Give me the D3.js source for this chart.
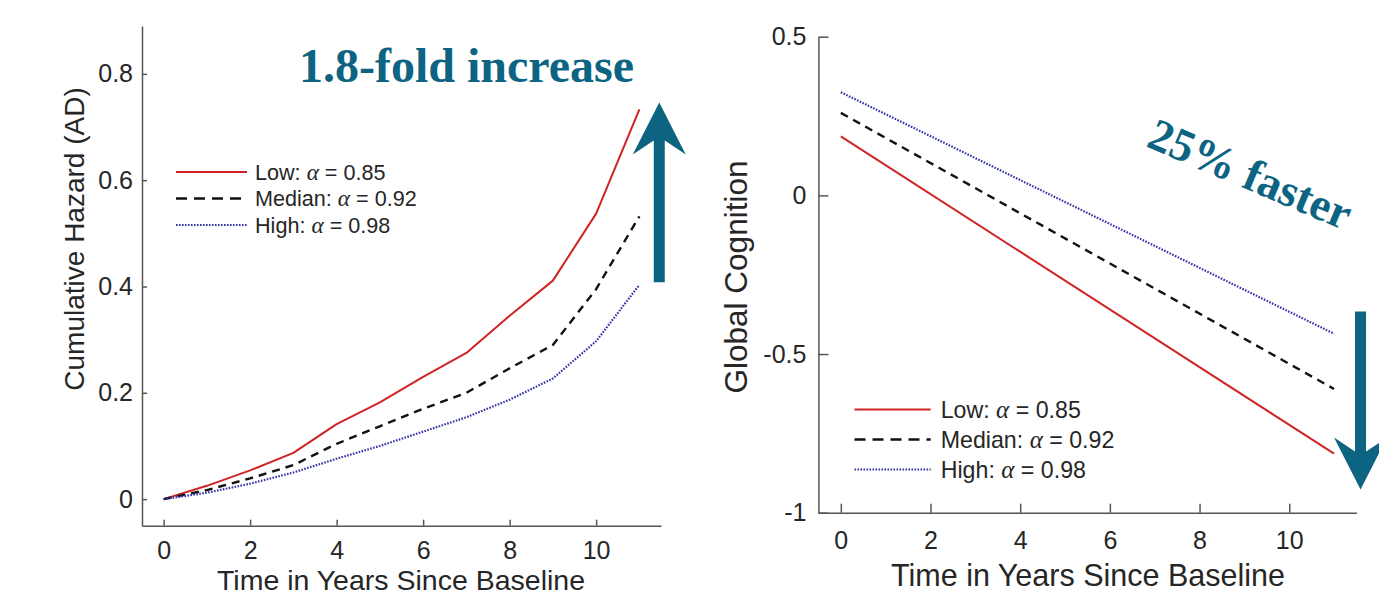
<!DOCTYPE html>
<html>
<head>
<meta charset="utf-8">
<script src="https://cdn.jsdelivr.net/npm/d3@7"></script>
<style>
  body { margin: 0; background: #fff; }
  svg { display: block; }
</style>
</head>
<body>
<div id="chart"></div>
<script>
// ---- data ----
const years = [0, 1, 2, 3, 4, 5, 6, 7, 8, 9, 10, 11]
const hazardLow = [0, 0.025, 0.054, 0.087, 0.141, 0.182, 0.23, 0.275, 0.345, 0.411, 0.537, 0.733]
const hazardMedian = [0, 0.017, 0.039, 0.064, 0.104, 0.137, 0.17, 0.2, 0.246, 0.29, 0.395, 0.532]
const hazardHigh = [0, 0.012, 0.029, 0.05, 0.076, 0.1, 0.127, 0.154, 0.187, 0.227, 0.297, 0.403]

const cogYears = [0, 11]
const cogLow = [0.186, -0.814]
const cogMedian = [0.26, -0.61]
const cogHigh = [0.325, -0.436]

const groupNames = ['Low', 'Median', 'High']
const alphaValues = ['0.85', '0.92', '0.98']

const xTicks = [0, 2, 4, 6, 8, 10]
const hazardTicks = [0, 0.2, 0.4, 0.6, 0.8]
const cogTicks = [-1, -0.5, 0, 0.5]

let width = 1379
let height = 595

let styles = [
  { color: '#d02424', dash: null, w: 2 },
  { color: '#111111', dash: '8,6', w: 2.4 },
  { color: '#3434a6', dash: '1.6,1.4', w: 2.2 }
]
let teal = '#0d6482'
let axisColor = '#555'
let labelColor = '#262626'
let sans = "Helvetica, 'Liberation Sans', Arial, sans-serif"
let serif = "'Liberation Serif', 'Times New Roman', serif"

let svg = d3
  .select('#chart')
  .append('svg')
  .attr('width', width)
  .attr('height', height)

// ---- left panel: cumulative hazard ----
let xL = d3.scaleLinear().domain([-0.5, 11.5]).range([142, 661])
let yL = d3.scaleLinear().domain([-0.05, 0.89]).range([525.7, 26])

// ---- right panel: global cognition ----
let xR = d3.scaleLinear().domain([-0.5, 11.5]).range([818.4, 1356.5])
let yR = d3.scaleLinear().domain([-1, 0.5]).range([512.7, 36.7])

function drawAxes(x, y, yTicks, opt) {
  let xAxis = svg
    .append('g')
    .attr('transform', `translate(0,${y.range()[0]})`)
    .call(
      d3.axisBottom(x)
        .tickValues(xTicks)
        .tickSizeInner(-opt.xTick)
        .tickSizeOuter(0)
        .tickPadding(opt.xPad)
        .tickFormat(d => String(d))
    )
  let yAxis = svg
    .append('g')
    .attr('transform', `translate(${x.range()[0]},0)`)
    .call(
      d3.axisLeft(y)
        .tickValues(yTicks)
        .tickSizeInner(-opt.yTick)
        .tickSizeOuter(0)
        .tickPadding(opt.yPad)
        .tickFormat(d => String(d))
    )
  ;[xAxis, yAxis].forEach(g => {
    g.select('.domain').attr('stroke', axisColor).attr('stroke-width', 1.5)
    g.selectAll('.tick line').attr('stroke', axisColor).attr('stroke-width', 1.5)
    g.selectAll('.tick text')
      .attr('fill', labelColor)
      .attr('font-family', sans)
      .attr('font-size', opt.tickFont)
  })
}

drawAxes(xL, yL, hazardTicks, { xTick: 6, yTick: 5, xPad: 16, yPad: 9, tickFont: 25 })
drawAxes(xR, yR, cogTicks, { xTick: 9, yTick: 10, xPad: 19, yPad: 12, tickFont: 25 })

// axis titles
svg
  .append('text')
  .text('Time in Years Since Baseline')
  .attr('x', 401)
  .attr('y', 590)
  .attr('text-anchor', 'middle')
  .attr('font-family', sans)
  .attr('font-size', 28.5)
  .attr('fill', labelColor)

svg
  .append('text')
  .text('Cumulative Hazard (AD)')
  .attr('transform', 'translate(84,239) rotate(-90)')
  .attr('text-anchor', 'middle')
  .attr('font-family', sans)
  .attr('font-size', 28)
  .attr('fill', labelColor)

svg
  .append('text')
  .text('Time in Years Since Baseline')
  .attr('x', 1088)
  .attr('y', 586)
  .attr('text-anchor', 'middle')
  .attr('font-family', sans)
  .attr('font-size', 30.5)
  .attr('fill', labelColor)

svg
  .append('text')
  .text('Global Cognition')
  .attr('transform', 'translate(747,277) rotate(-90)')
  .attr('text-anchor', 'middle')
  .attr('font-family', sans)
  .attr('font-size', 31.5)
  .attr('fill', labelColor)

// lines
function drawLines(x, y, xs, seriesList) {
  let line = d3.line()
    .x((d, i) => x(xs[i]))
    .y(d => y(d))
  svg
    .selectAll(null)
    .data(seriesList)
    .enter()
    .append('path')
    .attr('d', d => line(d))
    .attr('fill', 'none')
    .attr('stroke', (d, i) => styles[i].color)
    .attr('stroke-width', (d, i) => styles[i].w)
    .attr('stroke-dasharray', (d, i) => styles[i].dash)
    .attr('stroke-linejoin', 'round')
}

drawLines(xL, yL, years, [hazardLow, hazardMedian, hazardHigh])
drawLines(xR, yR, cogYears, [cogLow, cogMedian, cogHigh])

// legends
function drawLegend(x0, x1, tx, rowY, fontSize) {
  let g = svg.append('g')
  groupNames.forEach((name, i) => {
    let legendDash = i === 1 ? '11,7' : styles[i].dash
    g.append('line')
      .attr('x1', x0)
      .attr('x2', x1)
      .attr('y1', rowY[i])
      .attr('y2', rowY[i])
      .attr('stroke', styles[i].color)
      .attr('stroke-width', styles[i].w)
      .attr('stroke-dasharray', legendDash)
    let t = g.append('text')
      .attr('x', tx)
      .attr('y', rowY[i])
      .attr('dy', '0.36em')
      .attr('font-family', sans)
      .attr('font-size', fontSize)
      .attr('fill', labelColor)
    t.append('tspan').text(name + ': ')
    t.append('tspan')
      .text('α')
      .attr('font-family', serif)
      .attr('font-style', 'italic')
      .attr('font-size', fontSize * 1.08)
    t.append('tspan').text(' = ' + alphaValues[i])
  })
}

drawLegend(176, 247, 255, [172, 198.5, 225], 21.6)
drawLegend(854.5, 930.7, 940.7, [409.5, 439.5, 469.5], 23.2)

// annotations
svg
  .append('text')
  .text('1.8-fold increase')
  .attr('x', 299)
  .attr('y', 82)
  .attr('font-family', serif)
  .attr('font-weight', 'bold')
  .attr('font-size', 48)
  .attr('fill', teal)

svg
  .append('text')
  .text('25% faster')
  .attr('transform', 'translate(1145,146) rotate(23)')
  .attr('font-family', serif)
  .attr('font-weight', 'bold')
  .attr('font-size', 46)
  .attr('fill', teal)

// arrows, in data space of each panel
function arrow(xc, yTail, yTip) {
  let dir = yTip < yTail ? 1 : -1 // 1 = pointing up
  let hw = 5.5
  let wing = 26.5
  let headLen = 52
  let notch = 38
  let pts = [
    [xc - hw, yTail],
    [xc - hw, yTip + dir * notch],
    [xc - wing, yTip + dir * headLen],
    [xc, yTip],
    [xc + wing, yTip + dir * headLen],
    [xc + hw, yTip + dir * notch],
    [xc + hw, yTail]
  ]
  svg
    .append('path')
    .attr('d', 'M' + pts.join('L') + 'Z')
    .attr('fill', teal)
}

arrow(xL(11.46), yL(0.408), yL(0.746))
arrow(xR(11.59), yR(-0.366), yR(-0.927))
</script>
</body>
</html>
